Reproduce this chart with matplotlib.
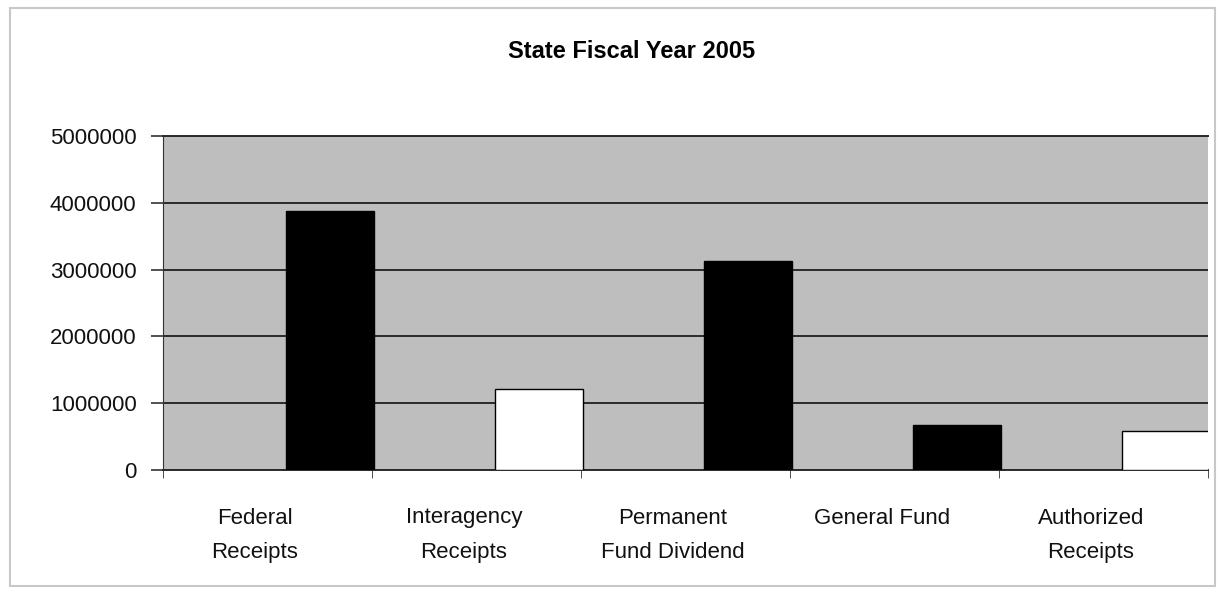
import matplotlib
matplotlib.use("Agg")
import matplotlib.pyplot as plt
import numpy as np

categories = ["Federal\nReceipts", "Interagency\nReceipts", "Permanent\nFund Dividend",
              "General Fund", "Authorized\nReceipts"]
values = [3880000, 1210000, 3130000, 670000, 580000]
bar_colors = ["black", "white", "black", "black", "white"]
yticks = [0, 1000000, 2000000, 3000000, 4000000, 5000000]
ytick_labels = ["0", "1000000", "2000000", "3000000", "4000000", "5000000"]
title = "State Fiscal Year 2005"

plt.rcParams['font.family'] = ['Liberation Sans', 'DejaVu Sans']

fig = plt.figure(figsize=(12.2, 5.92), dpi=100)
ax = fig.add_axes([163 / 1220, 1 - 470 / 592, (1208 - 163) / 1220, (470 - 136) / 592])
ax.set_facecolor("#bebebe")

x = np.arange(len(categories))
ax.bar(x + 0.3, values, width=0.42, color=bar_colors, edgecolor="black", linewidth=1, zorder=3)

ax.set_ylim(0, 5000000)
ax.set_xlim(-0.5, 4.5)
ax.set_yticks(yticks)
ax.set_yticklabels(ytick_labels, fontsize=16, color="#111111")
ax.tick_params(axis="y", length=9, width=1.2, pad=10, color="#333333")
ax.yaxis.grid(True, color="#2a2a2a", linewidth=1.4, zorder=1)
ax.set_axisbelow(True)

ax.set_xticks(x - 0.06)
ax.set_xticklabels(categories, fontsize=16, color="#111111", linespacing=1.85)
ax.tick_params(axis="x", length=0, pad=27)
ax.set_xticks(np.arange(-0.5, 5, 1), minor=True)
ax.tick_params(axis="x", which="minor", length=6, color="#333333")

for s in ["top", "bottom"]:
    ax.spines[s].set_color("#2a2a2a")
    ax.spines[s].set_linewidth(1.4)
ax.spines["left"].set_color("#333333")
ax.spines["right"].set_visible(False)

fig.text(0.518, 1 - 52 / 592, title, fontsize=17, fontweight="bold", ha="center", va="center")

# thin frame around the chart
fig.patches.append(plt.Rectangle((10 / 1220, 6 / 592), 1205 / 1220, 578 / 592,
                                 transform=fig.transFigure, fill=False,
                                 edgecolor="#c8c8c8", linewidth=1.5))

fig.savefig("out.png", dpi=100)
